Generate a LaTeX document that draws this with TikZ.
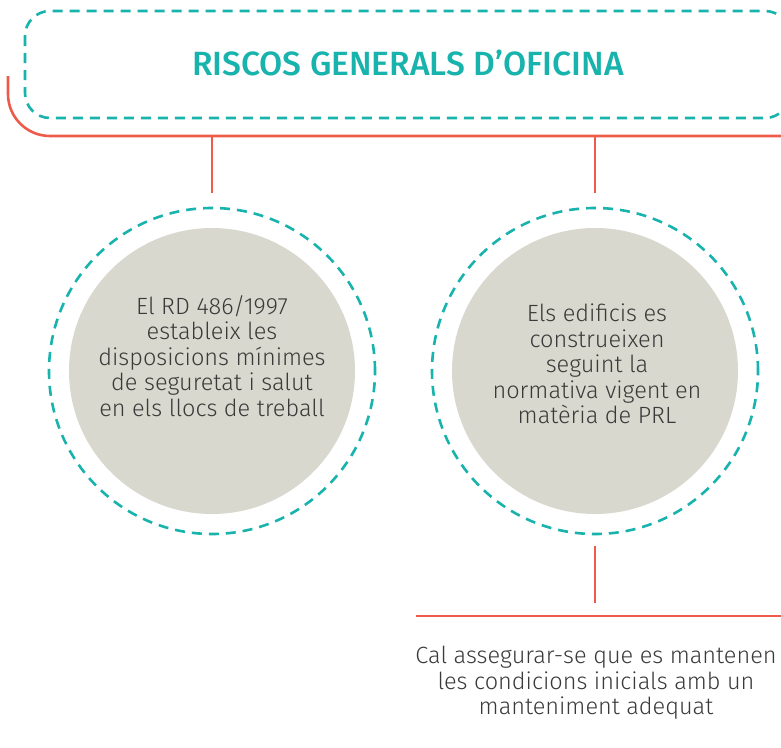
\documentclass[tikz,border=0pt]{standalone}
\usepackage{fontspec}
\setmainfont{Fira Sans}
\newfontfamily\lightfont{Fira Sans Light}
\newfontfamily\medfont{Fira Sans Medium}
\definecolor{tealc}{HTML}{17B3AC}
\definecolor{redc}{HTML}{EE5B4A}
\definecolor{grayc}{HTML}{D9D8CE}
\definecolor{textc}{HTML}{3A3A3A}
\begin{document}
\begin{tikzpicture}[x=1pt,y=-1pt,
  tealdash/.style={draw=tealc, line width=2.6pt, dash pattern=on 10pt off 7pt},
  redline/.style={draw=redc, line width=2.6pt},
  outercirc/.style={circle, tealdash, minimum size=326pt, inner sep=0pt},
  innercirc/.style={circle, fill=grayc, minimum size=286pt, inner sep=0pt},
  bodytext/.style={align=center, text=textc, font=\lightfont\fontsize{23.5}{25.5}\selectfont, inner sep=0pt},
  titletext/.style={text=tealc, font=\medfont\fontsize{33.6}{38}\selectfont}]
\useasboundingbox (0,0) rectangle (781,747);
\begin{scope}
\clip (0,0) rectangle (781,747);
\draw[tealdash, rounded corners=25pt] (25,11) rectangle (790,118);
\node[titletext] (title) at (408,63) {RISCOS GENERALS D’OFICINA};
% red bracket
\coordinate (lstart) at (8,76);
\coordinate (lcorner) at (8,136);
\coordinate (lend) at (781,136);
\draw[redline, rounded corners=42pt] (lstart) -- (lcorner) -- (lend);
% left circle
\node[outercirc] (c1) at (212,371) {};
\node[innercirc] (g1) at (212,371) {};
\node[bodytext] (t1) at (212,356) {El RD 486/1997\\estableix les\\disposicions mínimes\\de seguretat i salut\\en els llocs de treball};
% right circle
\node[outercirc] (c2) at (595,371) {};
\node[innercirc] (g2) at (595,371) {};
\node[bodytext] (t2) at (597,364) {Els edificis es\\construeixen\\seguint la\\normativa vigent en\\matèria de PRL};
% connectors
\coordinate (a1) at (212,136);
\coordinate (b1) at (212,193);
\coordinate (a2) at (595,136);
\coordinate (b2) at (595,193);
\draw[redline] (a1) -- (b1);
\draw[redline] (a2) -- (b2);
\coordinate (d1) at (595,546);
\coordinate (d2) at (595,603);
\draw[redline] (d1) -- (d2);
\coordinate (h1) at (416,616);
\coordinate (h2) at (781,616);
\draw[redline] (h1) -- (h2);
\node[bodytext] (t3) at (596,683) {Cal assegurar-se que es mantenen\\les condicions inicials amb un\\manteniment adequat};
\end{scope}
\end{tikzpicture}
\end{document}
